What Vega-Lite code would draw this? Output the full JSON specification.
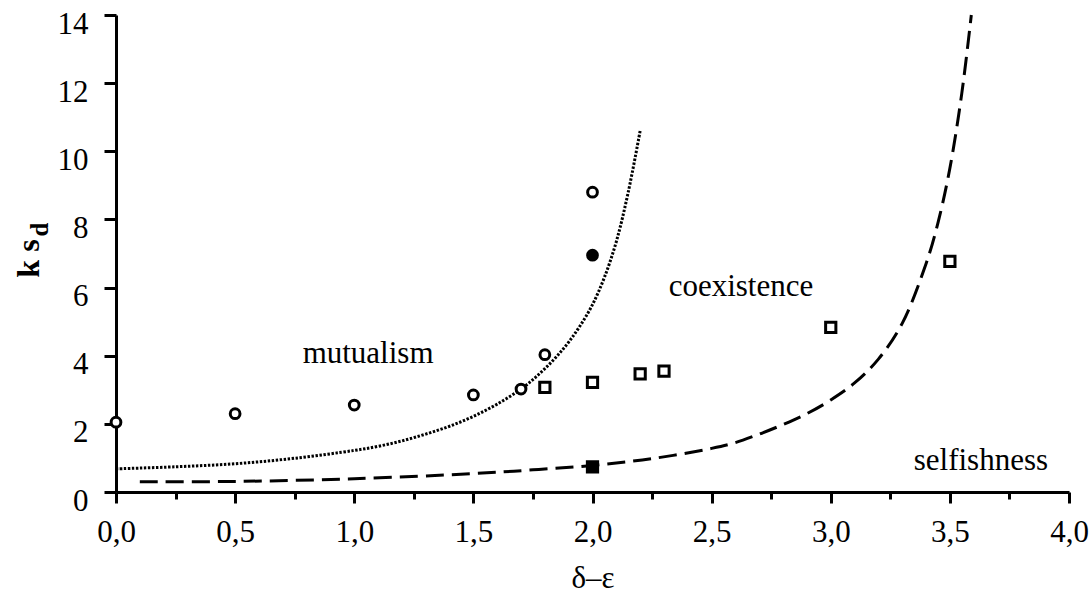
{
  "$schema": "https://vega.github.io/schema/vega-lite/v6.json",
  "width": 953,
  "height": 477,
  "autosize": {"type": "none"},
  "padding": {"left": 116, "top": 15, "right": 23, "bottom": 107},
  "background": "white",
  "config": {
    "view": {"stroke": null},
    "font": "Liberation Serif"
  },
  "datasets": {
    "curves": [
      {"boundary": "mutualism", "x": 0.0, "y": 0.68},
      {"boundary": "mutualism", "x": 0.25, "y": 0.74},
      {"boundary": "mutualism", "x": 0.5, "y": 0.83},
      {"boundary": "mutualism", "x": 0.75, "y": 0.99},
      {"boundary": "mutualism", "x": 1.0, "y": 1.22},
      {"boundary": "mutualism", "x": 1.1, "y": 1.34},
      {"boundary": "mutualism", "x": 1.2, "y": 1.5},
      {"boundary": "mutualism", "x": 1.3, "y": 1.7},
      {"boundary": "mutualism", "x": 1.4, "y": 1.93},
      {"boundary": "mutualism", "x": 1.5, "y": 2.22},
      {"boundary": "mutualism", "x": 1.6, "y": 2.58},
      {"boundary": "mutualism", "x": 1.7, "y": 3.02},
      {"boundary": "mutualism", "x": 1.75, "y": 3.3},
      {"boundary": "mutualism", "x": 1.8, "y": 3.62},
      {"boundary": "mutualism", "x": 1.85, "y": 3.98},
      {"boundary": "mutualism", "x": 1.9, "y": 4.4},
      {"boundary": "mutualism", "x": 1.95, "y": 4.9},
      {"boundary": "mutualism", "x": 2.0, "y": 5.5},
      {"boundary": "mutualism", "x": 2.05, "y": 6.3},
      {"boundary": "mutualism", "x": 2.1, "y": 7.35},
      {"boundary": "mutualism", "x": 2.15, "y": 8.8},
      {"boundary": "mutualism", "x": 2.2, "y": 10.6},
      {"boundary": "selfishness", "x": 0.1, "y": 0.3},
      {"boundary": "selfishness", "x": 0.5, "y": 0.31},
      {"boundary": "selfishness", "x": 1.0, "y": 0.39},
      {"boundary": "selfishness", "x": 1.5, "y": 0.54},
      {"boundary": "selfishness", "x": 1.75, "y": 0.65},
      {"boundary": "selfishness", "x": 2.0, "y": 0.78},
      {"boundary": "selfishness", "x": 2.25, "y": 0.98},
      {"boundary": "selfishness", "x": 2.5, "y": 1.28},
      {"boundary": "selfishness", "x": 2.6, "y": 1.45},
      {"boundary": "selfishness", "x": 2.7, "y": 1.7},
      {"boundary": "selfishness", "x": 2.8, "y": 1.98},
      {"boundary": "selfishness", "x": 2.9, "y": 2.3},
      {"boundary": "selfishness", "x": 3.0, "y": 2.7},
      {"boundary": "selfishness", "x": 3.1, "y": 3.2},
      {"boundary": "selfishness", "x": 3.2, "y": 3.9},
      {"boundary": "selfishness", "x": 3.3, "y": 4.95},
      {"boundary": "selfishness", "x": 3.4, "y": 6.7},
      {"boundary": "selfishness", "x": 3.45, "y": 7.9},
      {"boundary": "selfishness", "x": 3.5, "y": 9.5},
      {"boundary": "selfishness", "x": 3.55, "y": 11.7},
      {"boundary": "selfishness", "x": 3.59, "y": 14.0}
    ],
    "points": [
      {"kind": "circle", "state": "open", "x": 0.0, "y": 2.05},
      {"kind": "circle", "state": "open", "x": 0.5, "y": 2.3},
      {"kind": "circle", "state": "open", "x": 1.0, "y": 2.55},
      {"kind": "circle", "state": "open", "x": 1.5, "y": 2.85},
      {"kind": "circle", "state": "open", "x": 1.7, "y": 3.02},
      {"kind": "circle", "state": "open", "x": 1.8, "y": 4.03},
      {"kind": "circle", "state": "open", "x": 2.0, "y": 8.8},
      {"kind": "circle", "state": "filled", "x": 2.0, "y": 6.95},
      {"kind": "square", "state": "open", "x": 1.8, "y": 3.07},
      {"kind": "square", "state": "open", "x": 2.0, "y": 3.22},
      {"kind": "square", "state": "open", "x": 2.2, "y": 3.47},
      {"kind": "square", "state": "open", "x": 2.3, "y": 3.55},
      {"kind": "square", "state": "open", "x": 3.0, "y": 4.83},
      {"kind": "square", "state": "open", "x": 3.5, "y": 6.77},
      {"kind": "square", "state": "filled", "x": 2.0, "y": 0.74}
    ],
    "labels": [
      {"text": "mutualism", "x": 1.058, "y": 4.05},
      {"text": "coexistence", "x": 2.623, "y": 6.02},
      {"text": "selfishness", "x": 3.63, "y": 0.9}
    ],
    "subscript": [
      {"text": "d", "x": -0.32, "y": 7.7}
    ]
  },
  "layer": [
    {
      "data": {"name": "curves"},
      "transform": [{"filter": "datum.boundary === 'mutualism'"}],
      "mark": {"type": "line", "color": "black", "strokeWidth": 3, "strokeDash": [2.4, 1.6], "interpolate": "catmull-rom"},
      "encoding": {
        "x": {"field": "x", "type": "quantitative", "scale": {"domain": [0, 4], "nice": false, "zero": false},
          "axis": {
            "values": [0, 0.25, 0.5, 0.75, 1, 1.25, 1.5, 1.75, 2, 2.25, 2.5, 2.75, 3, 3.25, 3.5, 3.75, 4],
            "labelExpr": "datum.value % 0.5 === 0 ? replace(format(datum.value, '.1f'), '.', ',') : ''",
            "tickSize": {"condition": {"test": "datum.value % 0.5 === 0", "value": 11}, "value": 7},
            "tickWidth": 3,
            "tickColor": "black",
            "domainColor": "black",
            "domainWidth": 3,
            "grid": false,
            "labelOverlap": false,
            "labelFont": "Liberation Serif",
            "labelFontSize": 31,
            "labelColor": "black",
            "labelPadding": 14,
            "labelFlush": false,
            "title": "δ–ε",
            "titleFont": "Liberation Serif",
            "titleFontSize": 31,
            "titleFontWeight": "normal",
            "titleColor": "black",
            "titlePadding": 16
          }
        },
        "y": {"field": "y", "type": "quantitative", "scale": {"domain": [0, 14], "nice": false, "zero": false},
          "axis": {
            "values": [0, 1, 2, 3, 4, 5, 6, 7, 8, 9, 10, 11, 12, 13, 14],
            "labelExpr": "datum.value % 2 === 0 ? format(datum.value, 'd') : ''",
            "tickSize": {"condition": {"test": "datum.value % 2 === 0", "value": 12}, "value": 8},
            "tickWidth": 3,
            "tickColor": "black",
            "domainColor": "black",
            "domainWidth": 3,
            "grid": false,
            "labelOverlap": false,
            "labelFont": "Liberation Serif",
            "labelFontSize": 31,
            "labelColor": "black",
            "labelPadding": 16,
            "labelOffset": 9,
            "labelFlush": false,
            "title": "k s",
            "titleFont": "Liberation Serif",
            "titleFontSize": 32,
            "titleFontWeight": "bold",
            "titleColor": "black",
            "titleAngle": 270,
            "titleAlign": "center",
            "titleBaseline": "middle",
            "titleX": -88,
            "titleY": 243
          }
        }
      }
    },
    {
      "data": {"name": "curves"},
      "transform": [{"filter": "datum.boundary === 'selfishness'"}],
      "mark": {"type": "line", "color": "black", "strokeWidth": 3, "strokeDash": [18, 8], "interpolate": "catmull-rom"},
      "encoding": {
        "x": {"field": "x", "type": "quantitative"},
        "y": {"field": "y", "type": "quantitative"}
      }
    },
    {
      "data": {"name": "points"},
      "mark": {"type": "point", "filled": true, "stroke": "black", "strokeWidth": 3, "opacity": 1},
      "encoding": {
        "x": {"field": "x", "type": "quantitative"},
        "y": {"field": "y", "type": "quantitative"},
        "shape": {"field": "kind", "type": "nominal", "scale": {"domain": ["circle", "square"], "range": ["circle", "square"]}, "legend": null},
        "fill": {"field": "state", "type": "nominal", "scale": {"domain": ["open", "filled"], "range": ["white", "black"]}, "legend": null},
        "size": {"field": "kind", "type": "nominal", "scale": {"domain": ["circle", "square"], "range": [95, 105]}, "legend": null}
      }
    },
    {
      "data": {"name": "labels"},
      "mark": {"type": "text", "font": "Liberation Serif", "fontSize": 31, "color": "black", "align": "center", "baseline": "middle"},
      "encoding": {
        "x": {"field": "x", "type": "quantitative"},
        "y": {"field": "y", "type": "quantitative"},
        "text": {"field": "text"}
      }
    },
    {
      "data": {"name": "subscript"},
      "mark": {"type": "text", "font": "Liberation Serif", "fontSize": 25, "fontWeight": "bold", "color": "black", "align": "center", "baseline": "middle", "angle": 270},
      "encoding": {
        "x": {"field": "x", "type": "quantitative"},
        "y": {"field": "y", "type": "quantitative"},
        "text": {"field": "text"}
      }
    }
  ]
}
